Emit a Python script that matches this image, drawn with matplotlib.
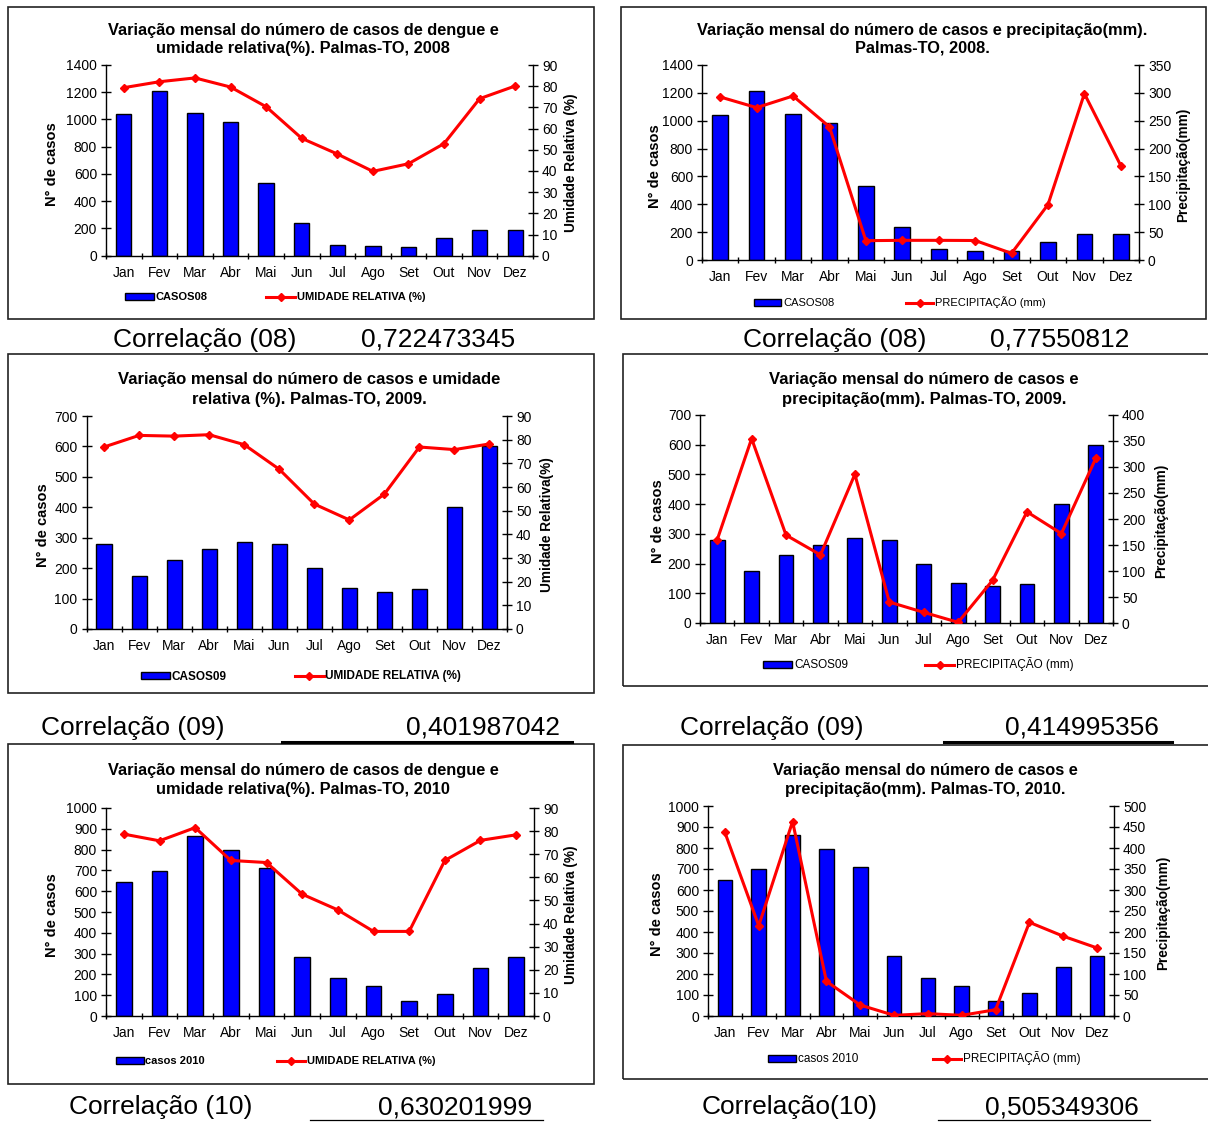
import matplotlib
matplotlib.use('Agg')
import matplotlib.pyplot as plt
from matplotlib.patches import Rectangle, Patch
from matplotlib.lines import Line2D
import numpy as np

plt.rcParams['font.family'] = ['Liberation Sans', 'DejaVu Sans']

W, H = 1208, 1122

months = ['Jan', 'Fev', 'Mar', 'Abr', 'Mai', 'Jun', 'Jul', 'Ago', 'Set', 'Out', 'Nov', 'Dez']

casos08 = [1043, 1211, 1050, 984, 531, 237, 78, 68, 66, 127, 186, 188]
umid08 = [79.3, 82.1, 83.9, 79.6, 70.3, 55.4, 48.0, 39.8, 43.4, 52.9, 74.1, 80.1]
precip08 = [292.6, 273.5, 294.4, 239, 34.7, 35.3, 35.3, 35, 12, 99.3, 298.6, 169.4]

casos09 = [279, 174, 228, 262, 285, 278, 199, 135, 123, 130, 400, 600]
umid09 = [76.9, 81.8, 81.5, 82.1, 77.9, 67.5, 52.8, 46.1, 57.0, 76.9, 75.8, 78.2]
precip09 = [160, 354.6, 169, 131, 286, 40.3, 20.5, 1.3, 82, 213.8, 172, 316.8]

casos10 = [646, 698, 863, 797, 711, 285, 182, 145, 72, 108, 232, 285]
umid10 = [78.7, 75.8, 81.5, 67.3, 66.4, 52.7, 45.9, 36.6, 36.6, 67.3, 76.0, 78.4]
precip10 = [437, 215, 463, 82.5, 26, 1.6, 5.6, 1.6, 15, 223, 190, 162]

corr_labels = ['Correlação (08)', 'Correlação (08)', 'Correlação (09)',
               'Correlação (09)', 'Correlação (10)', 'Correlação(10)']
corr_values = ['0,722473345', '0,77550812', '0,401987042',
               '0,414995356', '0,630201999', '0,505349306']

fig = plt.figure(figsize=(W / 100, H / 100), dpi=100)
fig.patch.set_facecolor('white')

TICK_FS = 10


def fx(x):
    return x / W


def fy(y):
    return 1 - y / H


def frame(l, r, t, b):
    fig.add_artist(Rectangle((fx(l), fy(b)), fx(r - l), (b - t) / H,
                             transform=fig.transFigure, fill=False,
                             edgecolor='#222222', lw=1.2))


def hline(x0, x1, y, lw):
    fig.add_artist(Line2D([fx(x0), fx(x1)], [fy(y), fy(y)],
                          transform=fig.transFigure, color='black', lw=lw))


def panel(axpx, cases, line, ylim1, step1, ylim2, step2,
          title, tx, ty, tfs, tls,
          ylab_xy, ylab2, ylab2_xy,
          leg_labels, leg_xy, leg_bold, leg_fs, handle_px, colsp_px):
    l, r, t, b = axpx
    ax = fig.add_axes([fx(l), fy(b), fx(r - l), (b - t) / H])
    x = np.arange(12)
    ax.bar(x, cases, width=0.43, color='#0000FF', edgecolor='black', linewidth=1, zorder=2)
    ax.set_xlim(-0.5, 11.5)
    ax.set_ylim(0, ylim1)
    ax.set_yticks(np.arange(0, ylim1 + 1, step1))
    ax.set_xticks(x)
    ax.set_xticklabels(months)
    ax.set_xticks(np.arange(-0.5, 12, 1), minor=True)
    ax.tick_params(axis='x', which='major', length=0, pad=7.5, labelsize=TICK_FS)
    ax.tick_params(axis='x', which='minor', direction='inout', length=5, width=1)
    ax.tick_params(axis='y', direction='inout', length=6.5, width=1, pad=3.2, labelsize=TICK_FS)
    for s in ['top', 'right']:
        ax.spines[s].set_visible(False)
    ax.spines['left'].set_linewidth(1)
    ax.spines['bottom'].set_linewidth(1)

    ax2 = ax.twinx()
    ax2.plot(x, line, color='#FF0000', lw=2.2, marker='D', ms=4, zorder=3)
    ax2.set_ylim(0, ylim2)
    ax2.set_yticks(np.arange(0, ylim2 + 1, step2))
    ax2.tick_params(axis='y', direction='inout', length=6.5, width=1, pad=3.2, labelsize=TICK_FS)
    for s in ['top', 'left', 'bottom']:
        ax2.spines[s].set_visible(False)
    ax2.spines['right'].set_linewidth(1)

    fig.text(fx(tx), fy(ty), title, ha='center', va='center', fontsize=tfs,
             fontweight='bold', linespacing=tls)
    fig.text(fx(ylab_xy[0]), fy(ylab_xy[1]), 'N° de casos', rotation=90,
             ha='center', va='center', fontsize=10.5, fontweight='bold')
    fig.text(fx(ylab2_xy[0]), fy(ylab2_xy[1]), ylab2, rotation=90,
             ha='center', va='center', fontsize=9.8, fontweight='bold')

    h1 = Patch(facecolor='#0000FF', edgecolor='black', lw=1)
    h2 = Line2D([], [], color='#FF0000', lw=2.2, marker='D', ms=4)
    fs_px = leg_fs * 100 / 72
    leg = ax.legend([h1, h2], leg_labels, ncol=2, loc='center',
                    bbox_to_anchor=(fx(leg_xy[0]), fy(leg_xy[1])),
                    bbox_transform=fig.transFigure, frameon=False,
                    fontsize=leg_fs, handlelength=handle_px / fs_px,
                    handletextpad=0.15, columnspacing=colsp_px / fs_px,
                    borderpad=0, borderaxespad=0, handleheight=0.6)
    for tt in leg.get_texts():
        tt.set_fontweight('bold' if leg_bold else 'normal')
    return ax, ax2


# Frames
frame(8, 594, 7, 319)
frame(621, 1206, 7, 319)
frame(8, 594, 354, 693)
frame(623, 1212, 354, 686)
frame(8, 594, 744, 1084)
frame(623, 1212, 745, 1079)

# Panel 1
panel((106, 533, 65, 255.7), casos08, umid08, 1400, 200, 90, 10,
      'Variação mensal do número de casos de dengue e\numidade relativa(%). Palmas-TO, 2008',
      303, 39.5, 11.8, 1.3,
      (51.5, 164.5), 'Umidade Relativa (%)', (571.5, 163),
      ['CASOS08', 'UMIDADE RELATIVA (%)'], (275, 297.5), True, 8, 29, 59)

# Panel 2
panel((702, 1139, 65, 260), casos08, precip08, 1400, 200, 350, 50,
      'Variação mensal do número de casos e precipitação(mm).\nPalmas-TO, 2008.',
      922, 39, 11.8, 1.25,
      (655, 166), 'Precipitação(mm)', (1183, 164.5),
      ['CASOS08', 'PRECIPITAÇÃO (mm)'], (900, 302.5), False, 8, 27, 72)

# Panel 3
panel((86.5, 507, 416, 629), casos09, umid09, 700, 100, 90, 10,
      'Variação mensal do número de casos e umidade\nrelativa (%). Palmas-TO, 2009.',
      309, 389.5, 12, 1.4,
      (43.5, 525), 'Umidade Relativa(%)', (547, 525),
      ['CASOS09', 'UMIDADE RELATIVA (%)'], (301, 676.5), True, 8.5, 29, 68)

# Panel 4
panel((700, 1113, 415, 623), casos09, precip09, 700, 100, 400, 50,
      'Variação mensal do número de casos e\nprecipitação(mm). Palmas-TO, 2009.',
      924, 389.5, 12, 1.4,
      (657.5, 521.5), 'Precipitação(mm)', (1161, 520.5),
      ['CASOS09', 'PRECIPITAÇÃO (mm)'], (918.5, 664.5), False, 8.5, 29, 77)

# Panel 5
panel((106, 534, 808, 1016), casos10, umid10, 1000, 100, 90, 10,
      'Variação mensal do número de casos de dengue e\numidade relativa(%). Palmas-TO, 2010',
      303, 780, 11.8, 1.3,
      (51.5, 915.5), 'Umidade Relativa (%)', (571.5, 914.5),
      ['casos 2010', 'UMIDADE RELATIVA (%)'], (275.5, 1061.5), True, 8, 28, 72)

# Panel 6
panel((708, 1114, 806, 1016), casos10, precip10, 1000, 100, 500, 50,
      'Variação mensal do número de casos e\nprecipitação(mm). Palmas-TO, 2010.',
      925, 780, 11.8, 1.3,
      (657, 914), 'Precipitação(mm)', (1163, 912.5),
      ['casos 2010', 'PRECIPITAÇÃO (mm)'], (924, 1058.5), False, 8.5, 28, 75)

# Correlation rows
corr_pos = [(113, 361, 340), (743, 990, 340), (41, 406, 728),
            (680, 1005, 728), (69, 378, 1107), (702, 985, 1107)]
for (xl, xv, yy), lab, val in zip(corr_pos, corr_labels, corr_values):
    fig.text(fx(xl), fy(yy), lab, ha='left', va='center', fontsize=19)
    fig.text(fx(xv), fy(yy), val, ha='left', va='center', fontsize=19)

hline(282, 572, 742, 2.2)
hline(944, 1172, 742, 2.2)
hline(310, 543, 1120, 0.9)
hline(938, 1150, 1120, 0.9)

fig.savefig('out.png', dpi=100, facecolor='white')
